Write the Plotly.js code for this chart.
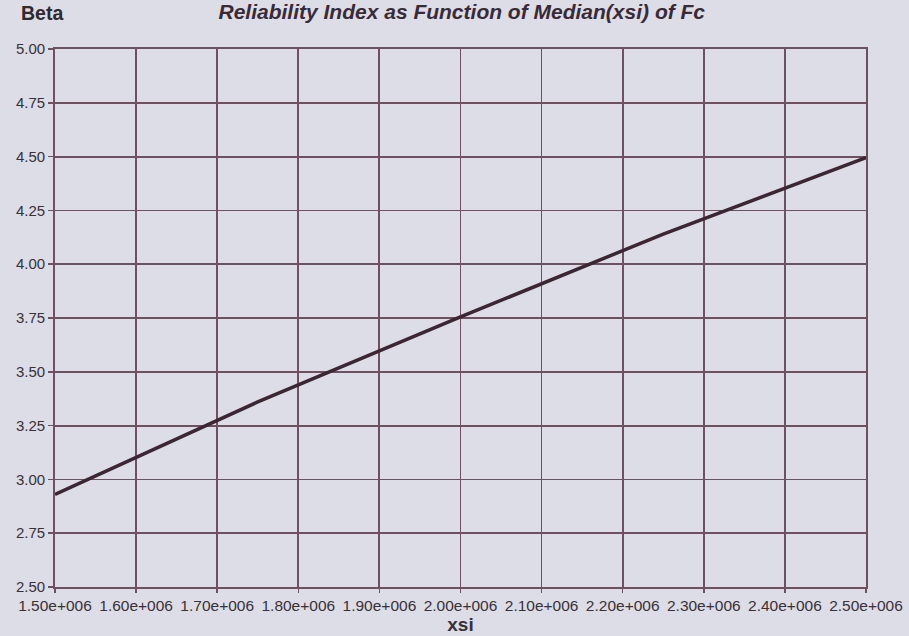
<!DOCTYPE html>
<html>
<head>
<meta charset="utf-8">
<script src="https://cdn.plot.ly/plotly-3.0.1.min.js"></script>
<style>
html,body{margin:0;padding:0;background:#dcdde7;}
#chart{width:909px;height:636px;}
</style>
</head>
<body>
<div id="chart"></div>
<script>
var xsi = [1500000, 1750000, 2000000, 2250000, 2500000];
var beta = [2.93, 3.36, 3.755, 4.14, 4.495];
var xTickVals = [1500000, 1600000, 1700000, 1800000, 1900000, 2000000, 2100000, 2200000, 2300000, 2400000, 2500000];
var xTickText = ["1.50e+006", "1.60e+006", "1.70e+006", "1.80e+006", "1.90e+006", "2.00e+006", "2.10e+006", "2.20e+006", "2.30e+006", "2.40e+006", "2.50e+006"];
var yTickVals = [2.50, 2.75, 3.00, 3.25, 3.50, 3.75, 4.00, 4.25, 4.50, 4.75, 5.00];

var gridCol = '#6e5060';
var textCol = '#3a3036';

var trace = {
  x: xsi, y: beta, type: 'scatter', mode: 'lines',
  line: {color: '#3d2634', width: 3.5},
  hoverinfo: 'skip'
};

var layout = {
  width: 909, height: 636,
  paper_bgcolor: '#dcdde7', plot_bgcolor: '#dcdde7',
  margin: {l: 55, r: 43, t: 49, b: 49},
  showlegend: false,
  font: {family: 'Liberation Sans, Arial, sans-serif', color: textCol, size: 15},
  title: {text: '<b><i>Reliability Index as Function of Median(xsi) of Fc</i></b>',
          x: 0.508, xanchor: 'center', y: 0.982, yanchor: 'middle',
          font: {size: 21, color: '#3a2a36'}},
  xaxis: {
    range: [1500000, 2500000], tickmode: 'array', tickvals: xTickVals, ticktext: xTickText,
    showgrid: true, gridcolor: gridCol, gridwidth: 1.8,
    showline: true, linecolor: gridCol, linewidth: 1.8, mirror: true,
    ticks: 'outside', ticklen: 4, tickcolor: gridCol, tickwidth: 1.5,
    zeroline: false, tickfont: {size: 15.5, color: textCol},
    title: {text: '<b>xsi</b>', font: {size: 19, color: '#3a3036'}, standoff: 0}
  },
  yaxis: {
    range: [2.5, 5.0], tickmode: 'array', tickvals: yTickVals, tickformat: '.2f',
    showgrid: true, gridcolor: gridCol, gridwidth: 1.8,
    showline: true, linecolor: gridCol, linewidth: 1.8, mirror: true,
    ticks: 'outside', ticklen: 5, tickcolor: gridCol, tickwidth: 1.5,
    zeroline: false, tickfont: {size: 15, color: textCol}
  },
  annotations: [{
    text: '<b>Beta</b>', xref: 'paper', yref: 'paper', x: -0.044, y: 1.0, xanchor: 'left', yanchor: 'bottom',
    yshift: 23, showarrow: false, font: {size: 19.5, color: '#2e2a2e'}
  }]
};

Plotly.newPlot('chart', [trace], layout, {displayModeBar: false, staticPlot: true});
</script>
</body>
</html>
